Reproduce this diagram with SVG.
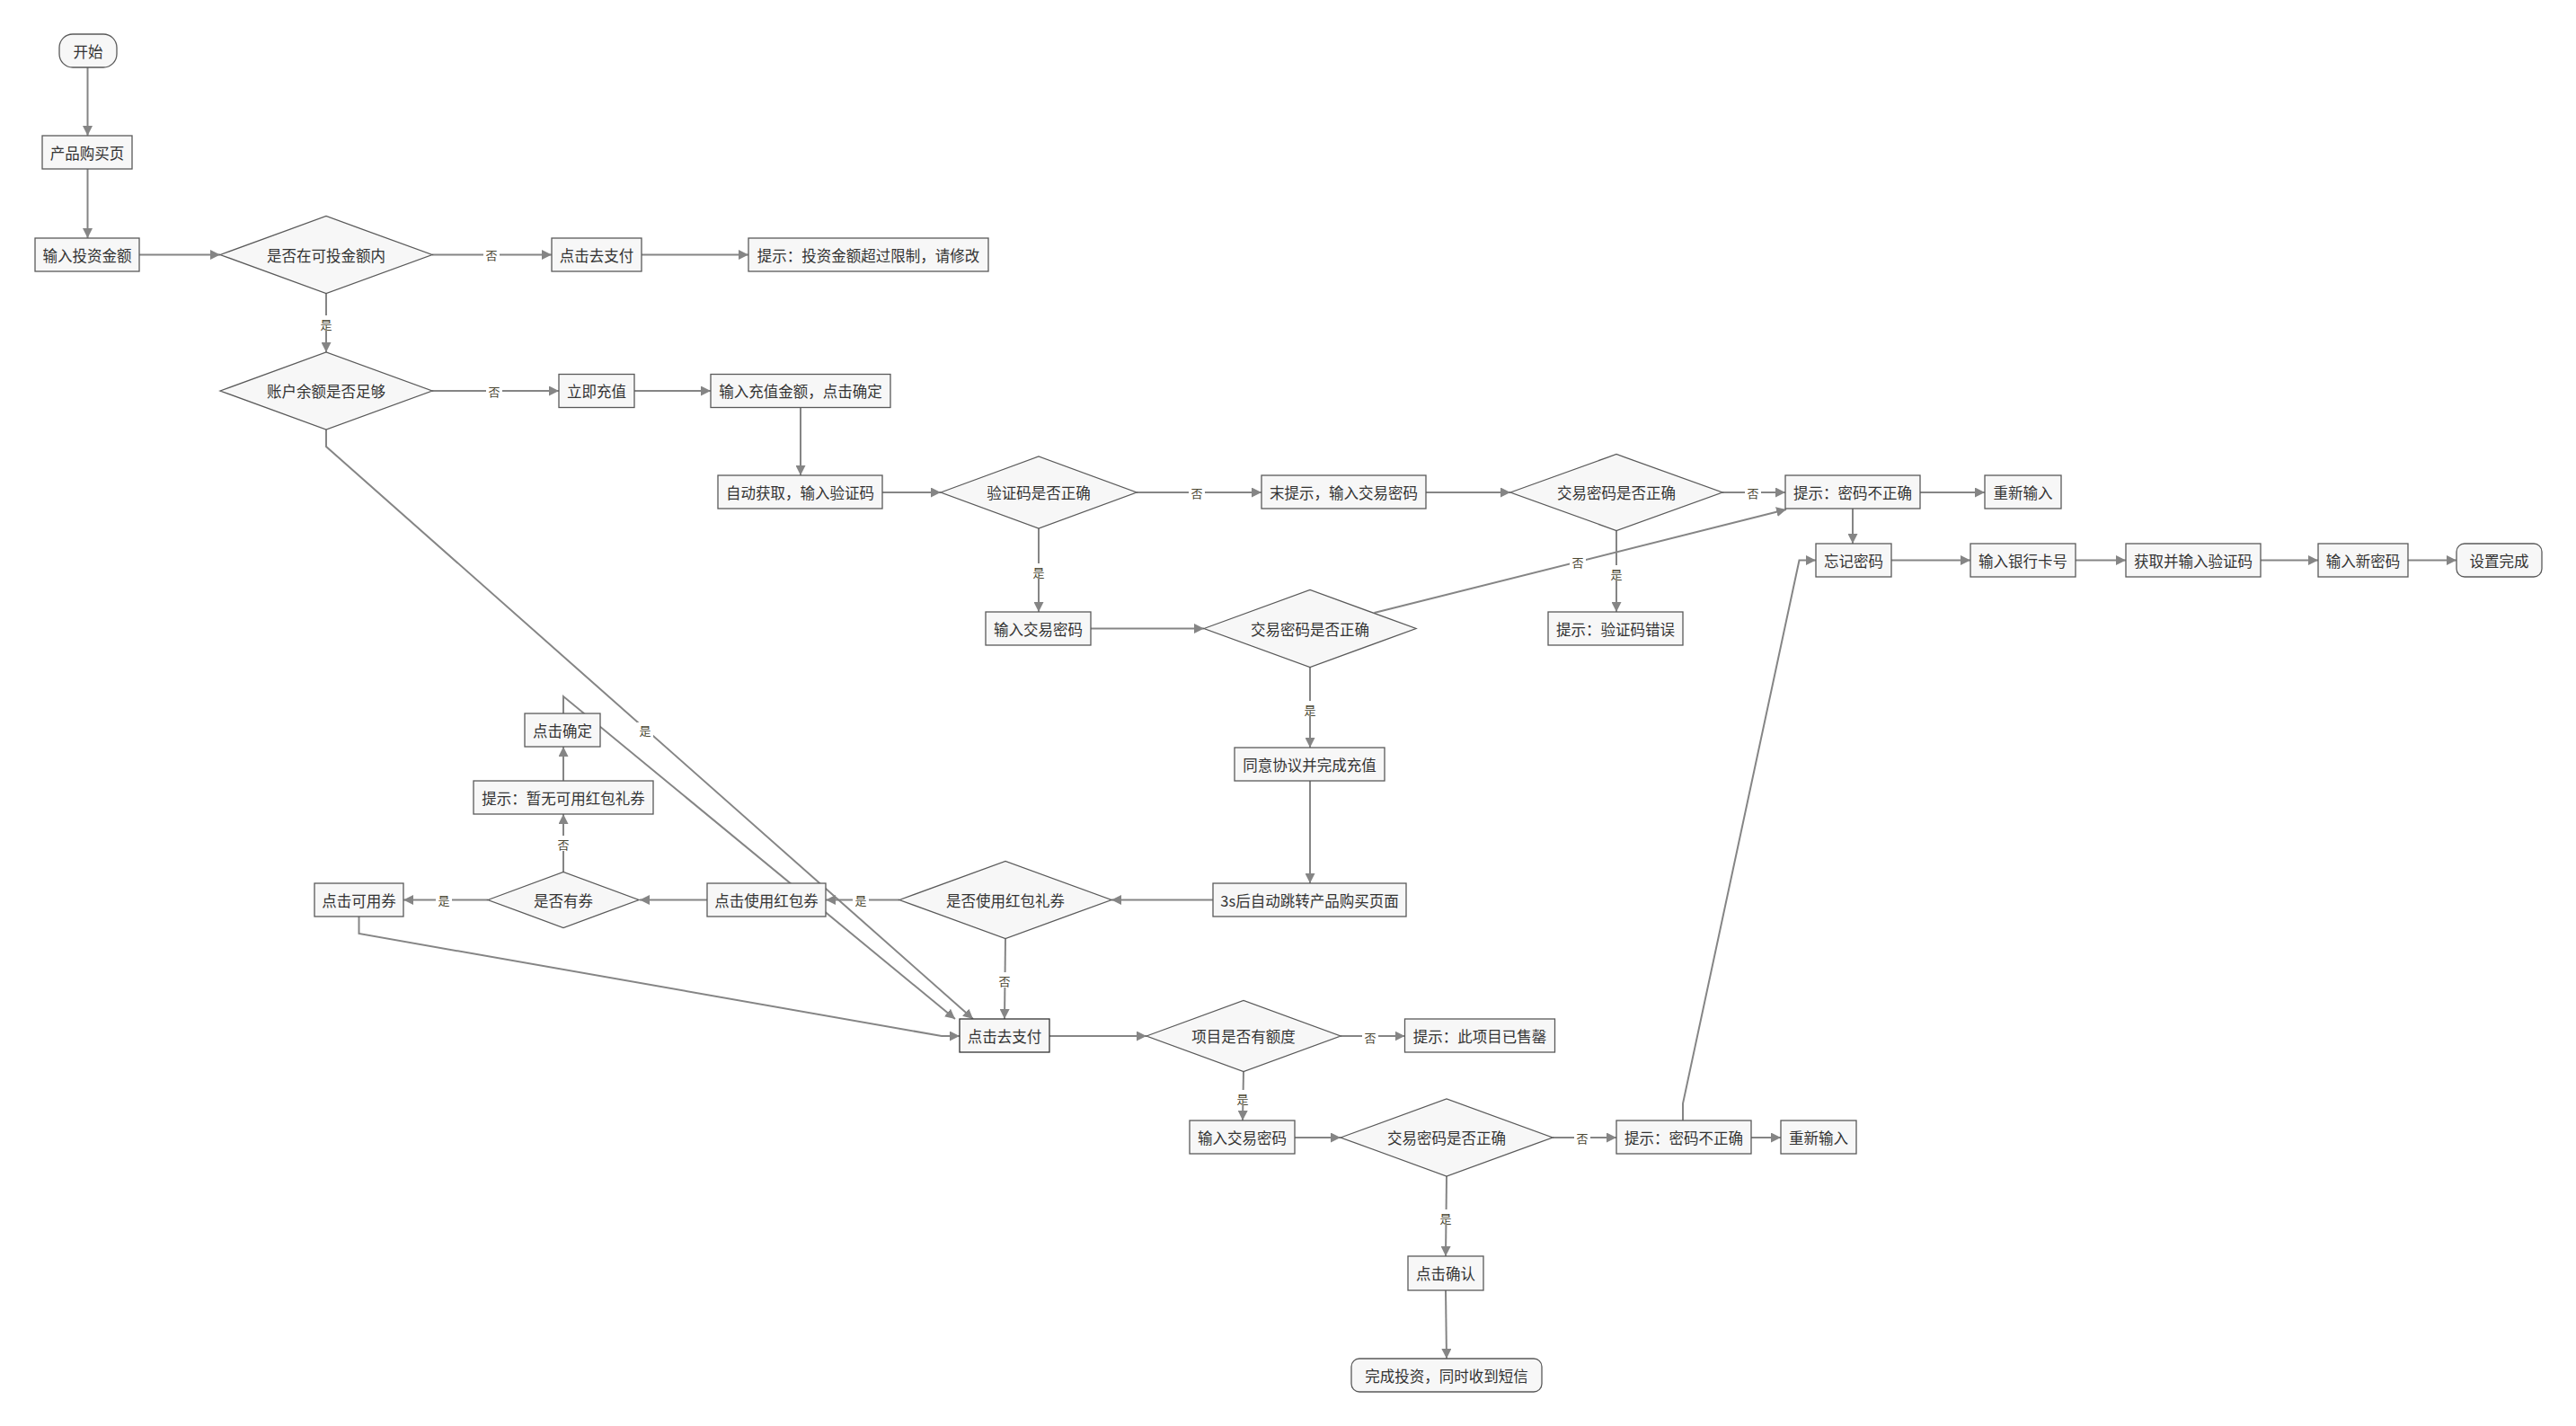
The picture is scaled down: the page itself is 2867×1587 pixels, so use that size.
<svg xmlns="http://www.w3.org/2000/svg" width="2867" height="1587" viewBox="0 0 2867 1587">
<style>
.n rect,.n polygon{fill:#f7f7f7;stroke:#5a5a5a;stroke-width:1.3}
.n text{font-family:"Noto Sans CJK SC","Liberation Sans",sans-serif;font-size:16.5px;fill:#333;text-anchor:middle;dominant-baseline:central}
.c path{fill:none;stroke:#858585;stroke-width:2;marker-end:url(#ah)}
.lb rect{fill:#fff}
.lb text{font-family:"Noto Sans CJK SC","Liberation Sans",sans-serif;font-size:13px;fill:#4a4632;text-anchor:middle;dominant-baseline:central}
</style>
<defs>
<marker id="ah" viewBox="0 0 10 10" refX="10" refY="5" markerWidth="11" markerHeight="11" markerUnits="userSpaceOnUse" orient="auto"><path d="M0,0 L10,5 L0,10 z" fill="#858585"/></marker>
</defs>
<rect width="2867" height="1587" fill="#fff"/>
<g id="connectors" class="c">
<path d="M97.5,75 L97.5,151"/>
<path d="M97.5,188 L97.5,265"/>
<path d="M155,283.5 L245,283.5"/>
<path d="M481,283.5 L614,283.5"/>
<path d="M714,283.5 L833,283.5"/>
<path d="M363,326.5 L363,392"/>
<path d="M481,435 L622,435"/>
<path d="M706,435 L791,435"/>
<path d="M891,453 L891,529"/>
<path d="M982,548 L1047,548"/>
<path d="M1265,548 L1404,548"/>
<path d="M1587,548 L1681,548"/>
<path d="M1917,548 L1987,548"/>
<path d="M2137,548 L2209,548"/>
<path d="M2062,566 L2062,605"/>
<path d="M2105,623.5 L2193,623.5"/>
<path d="M2310,623.5 L2366,623.5"/>
<path d="M2516,623.5 L2580,623.5"/>
<path d="M2680,623.5 L2734,623.5"/>
<path d="M1156,588 L1156,681"/>
<path d="M1799,591 L1799,681"/>
<path d="M1214,699.5 L1340,699.5"/>
<path d="M1529.5,682 L1988,567"/>
<path d="M1458,742 L1458,832"/>
<path d="M1458,869 L1458,983"/>
<path d="M1350,1001.5 L1237,1001.5"/>
<path d="M1001,1001.5 L919,1001.5"/>
<path d="M787,1001.5 L712,1001.5"/>
<path d="M543,1001.5 L449,1001.5"/>
<path d="M627,970.5 L627,906"/>
<path d="M627,869 L627,831"/>
<path d="M627,794 L627,775 L1063,1134"/>
<path d="M363,478 L363,497 L1083,1134"/>
<path d="M399.5,1020 L399.5,1039 L1048,1153 L1068,1153"/>
<path d="M1119,1044.5 L1118,1134"/>
<path d="M1168,1153 L1276,1153"/>
<path d="M1492,1153 L1563.5,1153"/>
<path d="M1384,1192.5 L1383,1247"/>
<path d="M1441,1266 L1492,1266"/>
<path d="M1728,1266 L1799,1266"/>
<path d="M1949,1266 L1982,1266"/>
<path d="M1873,1247 L1873,1228 L2002.5,623.5 L2021,623.5"/>
<path d="M1610,1309 L1609,1398"/>
<path d="M1609,1436 L1610,1512"/>
</g>
<g id="labels" class="lb">
<rect x="538" y="275" width="18" height="17"/><text x="547" y="283.5">否</text>
<rect x="354" y="351" width="18" height="17"/><text x="363" y="360">是</text>
<rect x="541" y="427" width="18" height="17"/><text x="550" y="435.5">否</text>
<rect x="1323" y="540" width="18" height="17"/><text x="1332" y="548">否</text>
<rect x="1942" y="540" width="18" height="17"/><text x="1951" y="548">否</text>
<rect x="1147" y="627" width="18" height="17"/><text x="1156" y="636">是</text>
<rect x="1790" y="629" width="18" height="17"/><text x="1799" y="638">是</text>
<rect x="1747" y="617" width="18" height="17"/><text x="1756" y="625">否</text>
<rect x="1449" y="780" width="18" height="17"/><text x="1458" y="789">是</text>
<rect x="949" y="993" width="18" height="17"/><text x="958" y="1001.5">是</text>
<rect x="485" y="993" width="18" height="17"/><text x="494" y="1001.5">是</text>
<rect x="618" y="930" width="18" height="17"/><text x="627" y="939">否</text>
<rect x="709" y="804" width="18" height="17"/><text x="718" y="812">是</text>
<rect x="1109" y="1082" width="18" height="17"/><text x="1118" y="1091">否</text>
<rect x="1516" y="1145" width="18" height="17"/><text x="1525" y="1154">否</text>
<rect x="1374" y="1213" width="18" height="17"/><text x="1383" y="1222">是</text>
<rect x="1752" y="1258" width="18" height="17"/><text x="1761" y="1266.5">否</text>
<rect x="1600" y="1346" width="18" height="17"/><text x="1609" y="1355">是</text>
</g>
<g id="n_start" class="n"><rect x="66" y="38" width="64" height="37" rx="15"/><text x="98" y="56.5">开始</text></g>
<g id="n_page" class="n"><rect x="47" y="151" width="100" height="37"/><text x="97" y="169.5">产品购买页</text></g>
<g id="n_amount" class="n"><rect x="39" y="265" width="116" height="37"/><text x="97" y="283.5">输入投资金额</text></g>
<g id="d_range" class="n"><polygon points="245,283.5 363,240.5 481,283.5 363,326.5"/><text x="363" y="283.5">是否在可投金额内</text></g>
<g id="n_pay1" class="n"><rect x="614" y="265" width="100" height="37"/><text x="664" y="283.5">点击去支付</text></g>
<g id="n_tip1" class="n"><rect x="833" y="265" width="267" height="37"/><text x="966.5" y="283.5">提示：投资金额超过限制，请修改</text></g>
<g id="d_balance" class="n"><polygon points="245,435 363,392 481,435 363,478"/><text x="363" y="435">账户余额是否足够</text></g>
<g id="n_recharge" class="n"><rect x="622" y="416.5" width="84" height="37"/><text x="664" y="435">立即充值</text></g>
<g id="n_rinput" class="n"><rect x="791" y="416.5" width="200" height="37"/><text x="891" y="435">输入充值金额，点击确定</text></g>
<g id="n_auto" class="n"><rect x="799" y="529" width="183" height="37"/><text x="890.5" y="547.5">自动获取，输入验证码</text></g>
<g id="d_code" class="n"><polygon points="1047,548 1156,508 1265,548 1156,588"/><text x="1156" y="548">验证码是否正确</text></g>
<g id="n_notip" class="n"><rect x="1404" y="529" width="183" height="37"/><text x="1495.5" y="547.5">末提示，输入交易密码</text></g>
<g id="d_pwd1" class="n"><polygon points="1681,548 1799,505.5 1917,548 1799,590.5"/><text x="1799" y="548">交易密码是否正确</text></g>
<g id="n_wrong1" class="n"><rect x="1987" y="529" width="150" height="37"/><text x="2062" y="547.5">提示：密码不正确</text></g>
<g id="n_retry1" class="n"><rect x="2209" y="529" width="85" height="37"/><text x="2251.5" y="547.5">重新输入</text></g>
<g id="n_forget" class="n"><rect x="2021" y="605" width="84" height="37"/><text x="2063" y="623.5">忘记密码</text></g>
<g id="n_bank" class="n"><rect x="2193" y="605" width="117" height="37"/><text x="2251.5" y="623.5">输入银行卡号</text></g>
<g id="n_getcode" class="n"><rect x="2366" y="605" width="150" height="37"/><text x="2441" y="623.5">获取并输入验证码</text></g>
<g id="n_newpwd" class="n"><rect x="2580" y="605" width="100" height="37"/><text x="2630" y="623.5">输入新密码</text></g>
<g id="n_done" class="n"><rect x="2734" y="605" width="95" height="37" rx="9"/><text x="2781.5" y="623.5">设置完成</text></g>
<g id="n_pwdin1" class="n"><rect x="1097" y="681" width="117" height="37"/><text x="1155.5" y="699.5">输入交易密码</text></g>
<g id="d_pwd2" class="n"><polygon points="1340,699.5 1458,656.5 1576,699.5 1458,742.5"/><text x="1458" y="699.5">交易密码是否正确</text></g>
<g id="n_codeerr" class="n"><rect x="1723" y="681" width="150" height="37"/><text x="1798" y="699.5">提示：验证码错误</text></g>
<g id="n_agree" class="n"><rect x="1374" y="832" width="167" height="37"/><text x="1457.5" y="850.5">同意协议并完成充值</text></g>
<g id="n_jump" class="n"><rect x="1350" y="983" width="215" height="37"/><text x="1457.5" y="1001.5">3s后自动跳转产品购买页面</text></g>
<g id="d_redpack" class="n"><polygon points="1001,1001.5 1119,958.5 1237,1001.5 1119,1044.5"/><text x="1119" y="1001.5">是否使用红包礼券</text></g>
<g id="n_usered" class="n"><rect x="787" y="983" width="132" height="37"/><text x="853" y="1001.5">点击使用红包券</text></g>
<g id="d_coupon" class="n"><polygon points="543,1001.5 627,970.5 711,1001.5 627,1032.5"/><text x="627" y="1001.5">是否有券</text></g>
<g id="n_avail" class="n"><rect x="350" y="983" width="99" height="37"/><text x="399.5" y="1001.5">点击可用券</text></g>
<g id="n_nocoupon" class="n"><rect x="527" y="869" width="200" height="37"/><text x="627" y="887.5">提示：暂无可用红包礼券</text></g>
<g id="n_confirm" class="n"><rect x="584" y="794" width="84" height="37"/><text x="626" y="812.5">点击确定</text></g>
<g id="n_pay2" class="n"><rect x="1068" y="1134" width="100" height="37" style="stroke:#333"/><text x="1118" y="1152.5">点击去支付</text></g>
<g id="d_quota" class="n"><polygon points="1276,1153 1384,1113.5 1492,1153 1384,1192.5"/><text x="1384" y="1153">项目是否有额度</text></g>
<g id="n_soldout" class="n"><rect x="1563.5" y="1134" width="167" height="37"/><text x="1647" y="1152.5">提示：此项目已售罄</text></g>
<g id="n_pwdin2" class="n"><rect x="1324" y="1247" width="117" height="37"/><text x="1382.5" y="1265.5">输入交易密码</text></g>
<g id="d_pwd3" class="n"><polygon points="1492,1266 1610,1223 1728,1266 1610,1309"/><text x="1610" y="1266">交易密码是否正确</text></g>
<g id="n_wrong2" class="n"><rect x="1799" y="1247" width="150" height="37"/><text x="1874" y="1265.5">提示：密码不正确</text></g>
<g id="n_retry2" class="n"><rect x="1982" y="1247" width="84" height="37"/><text x="2024" y="1265.5">重新输入</text></g>
<g id="n_ok" class="n"><rect x="1567" y="1398" width="84" height="38"/><text x="1609" y="1417">点击确认</text></g>
<g id="n_finish" class="n"><rect x="1504" y="1512" width="212" height="37" rx="9"/><text x="1610" y="1530.5">完成投资，同时收到短信</text></g>
</svg>
